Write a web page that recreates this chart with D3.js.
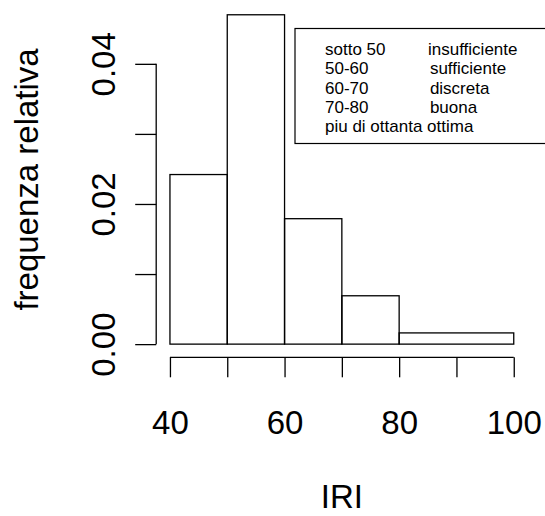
<!DOCTYPE html>
<html>
<head>
<meta charset="utf-8">
<script src="https://cdn.jsdelivr.net/npm/d3@7"></script>
<style>
  body { margin: 0; background: #fff; }
  svg { display: block; font-family: "Liberation Sans", Arial, sans-serif; }
</style>
</head>
<body>
<svg id="chart"></svg>
<script>
// histogram of IRI, relative frequency (density)
const breaks = [40, 50, 60, 70, 80, 100];
const density = [0.0242, 0.0470, 0.0179, 0.0069, 0.0016];
const xTicks = [40, 50, 60, 70, 80, 90, 100];
const xLabels = [40, 60, 80, 100];
const yTicks = [0, 0.01, 0.02, 0.03, 0.04];
const yLabels = [0, 0.02, 0.04];
const legendLines = [
  "sotto 50         insufficiente",
  "50-60             sufficiente",
  "60-70             discreta",
  "70-80             buona",
  "piu di ottanta ottima",
];

const width = 545, height = 516;
const plot = { left: 156.2, right: 527.5, top: 1.6, bottom: 357.3 };

const svg = d3.select("#chart").attr("width", width).attr("height", height);
svg.append("rect").attr("width", width).attr("height", height).attr("fill", "#fff");

// R style: usr range extended by 4%
const xScale = d3.scaleLinear().domain([37.6, 102.4]).range([plot.left, plot.right]);
const yMax = d3.max(density);
const yScale = d3.scaleLinear()
  .domain([-0.04 * yMax, yMax * 1.04])
  .range([plot.bottom, plot.top]);

const bins = density.map((d, i) => ({ x0: breaks[i], x1: breaks[i + 1], d }));

svg.append("g")
  .selectAll("rect")
  .data(bins)
  .join("rect")
  .attr("x", (b) => xScale(b.x0))
  .attr("y", (b) => yScale(b.d))
  .attr("width", (b) => xScale(b.x1) - xScale(b.x0))
  .attr("height", (b) => yScale(0) - yScale(b.d))
  .attr("fill", "none")
  .attr("stroke", "#000")
  .attr("stroke-width", 1.3);

// x axis
const xAxis = svg.append("g")
  .attr("transform", `translate(0, ${plot.bottom})`)
  .call(d3.axisBottom(xScale)
    .tickValues(xTicks)
    .tickSize(20)
    .tickSizeOuter(0)
    .tickFormat((d) => (xLabels.includes(d) ? d : "")));
xAxis.select(".domain").attr("d", `M${xScale(d3.min(xTicks))},0H${xScale(d3.max(xTicks))}`);
xAxis.selectAll("path, line").attr("stroke", "#000").attr("stroke-width", 1.3);
xAxis.selectAll("text")
  .attr("y", 77)
  .attr("dy", 0)
  .attr("fill", "#000")
  .style("font-size", "33px");

// y axis
const yAxis = svg.append("g")
  .attr("transform", `translate(${plot.left}, 0)`)
  .call(d3.axisLeft(yScale)
    .tickValues(yTicks)
    .tickSize(21)
    .tickSizeOuter(0)
    .tickFormat((d) => (yLabels.includes(d) ? d3.format(".2f")(d) : "")));
yAxis.select(".domain").attr("d", `M0,${yScale(d3.min(yTicks))}V${yScale(d3.max(yTicks))}`);
yAxis.selectAll("path, line").attr("stroke", "#000").attr("stroke-width", 1.3);
yAxis.selectAll("text")
  .attr("transform", "rotate(-90)")
  .attr("x", 0)
  .attr("y", -41.5)
  .attr("dy", 0)
  .attr("text-anchor", "middle")
  .attr("fill", "#000")
  .style("font-size", "33px");

// axis titles
svg.append("text")
  .attr("x", (plot.left + plot.right) / 2)
  .attr("y", 508)
  .attr("text-anchor", "middle")
  .style("font-size", "33px")
  .text("IRI");

svg.append("text")
  .attr("transform", `translate(37.5, ${(plot.top + plot.bottom) / 2}) rotate(-90)`)
  .attr("text-anchor", "middle")
  .style("font-size", "33px")
  .text("frequenza relativa");

// legend
const legend = svg.append("g").attr("transform", "translate(295, 28.5)");
legend.append("rect")
  .attr("width", 270)
  .attr("height", 115)
  .attr("fill", "#fff")
  .attr("stroke", "#000")
  .attr("stroke-width", 1.2);
legend.selectAll("text")
  .data(legendLines)
  .join("text")
  .attr("x", 30)
  .attr("y", (d, i) => 26.5 + i * 19.3)
  .style("white-space", "pre")
  .style("font-size", "17px")
  .text((d) => d);
</script>
</body>
</html>
